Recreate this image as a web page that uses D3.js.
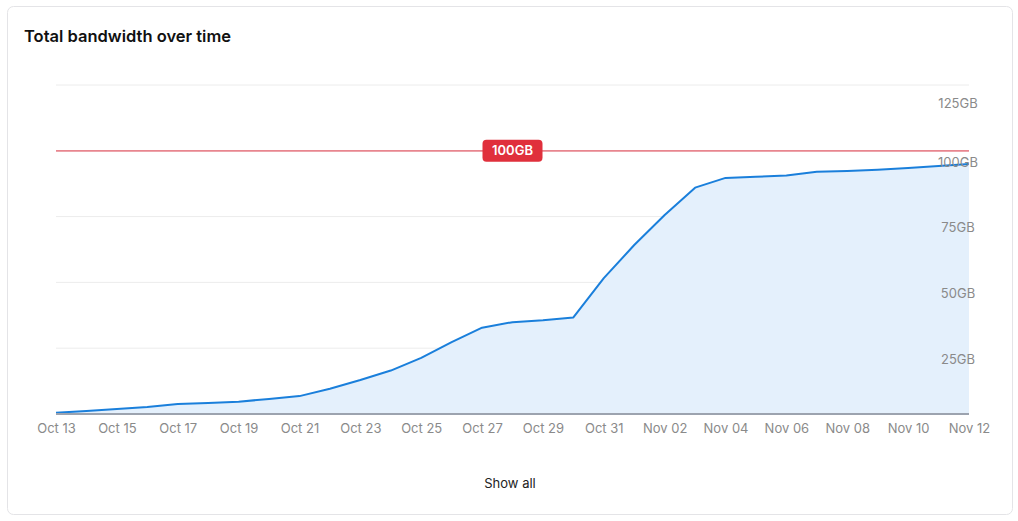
<!DOCTYPE html>
<html>
<head>
<meta charset="utf-8">
<script src="https://cdn.jsdelivr.net/npm/d3@7"></script>
<style>
  html, body { margin: 0; padding: 0; background: #fff; }
  svg { display: block; font-family: Inter, "Noto Sans", sans-serif; }
</style>
</head>
<body>
<svg id="chart" width="1018" height="521"></svg>
<script>
// ---- data ----
const startDate = "2024-10-13";
const dailyGB = [0.5, 1.1, 1.9, 2.7, 3.8, 4.2, 4.7, 5.7, 6.8, 9.6,
                 12.9, 16.5, 21.3, 27.3, 32.8, 34.9, 35.6, 36.7, 51.6, 64.2,
                 75.6, 86.0, 89.7, 90.1, 90.6, 92.0, 92.3, 92.8, 93.5, 94.2, 95.0];
const yTicks = [0, 25, 50, 75, 100, 125];
const xTickEvery = 2;
const limitGB = 100;
const limitLabel = "100GB";
const title = "Total bandwidth over time";
const footer = "Show all";

// ---- build ----
(function () {
const parse = d3.timeParse("%Y-%m-%d");
const d0 = parse(startDate);
const data = dailyGB.map((v, i) => ({ date: d3.timeDay.offset(d0, i), v }));

const svg = d3.select("#chart");
const pL = 56, pR = 969, pT = 85, pB = 414;

// card
svg.append("rect").attr("x", 7.5).attr("y", 6.5).attr("width", 1005).attr("height", 508)
  .attr("rx", 6).attr("fill", "#fff").attr("stroke", "#e4e4e7").attr("stroke-width", 1);

svg.append("text").attr("x", 24).attr("y", 42).text(title)
  .attr("font-size", 16.5).attr("font-weight", 600).attr("fill", "#111");

const x = d3.scaleTime().domain([data[0].date, data[data.length - 1].date]).range([pL, pR]);
const y = d3.scaleLinear().domain([0, 125]).range([pB, pT]);

// gridlines
svg.append("g").selectAll("line").data(yTicks.filter(t => t > 0)).join("line")
  .attr("x1", pL).attr("x2", pR)
  .attr("y1", d => y(d)).attr("y2", d => y(d))
  .attr("stroke", "#ececec").attr("stroke-width", 1);

// area + line
const area = d3.area().x(d => x(d.date)).y0(y(0)).y1(d => y(d.v));
const line = d3.line().x(d => x(d.date)).y(d => y(d.v));
svg.append("path").datum(data).attr("d", area).attr("fill", "#e4f0fc");
svg.append("path").datum(data).attr("d", line).attr("fill", "none")
  .attr("stroke", "#1a7fdb").attr("stroke-width", 2).attr("stroke-linejoin", "round");

// baseline
svg.append("line").attr("x1", pL).attr("x2", pR).attr("y1", y(0)).attr("y2", y(0))
  .attr("stroke", "#9ca3af").attr("stroke-width", 2);

// y axis labels (inside right)
const yAxis = d3.axisRight(y).tickValues(yTicks.filter(t => t > 0))
  .tickFormat(d => d + "GB").tickSize(0).tickPadding(0);
const yg = svg.append("g").attr("transform", "translate(958,0)").call(yAxis);
yg.select(".domain").remove();
yg.selectAll("text").attr("text-anchor", "middle")
  .attr("dy", d => d === 125 ? "1.73em" : "1.17em")
  .attr("font-size", 13).attr("fill", "#8a8a8a").attr("font-family", "Inter, sans-serif");

// x axis labels
const xTicks = data.filter((d, i) => i % xTickEvery === 0).map(d => d.date);
const xAxis = d3.axisBottom(x).tickValues(xTicks).tickFormat(d3.timeFormat("%b %d"))
  .tickSize(0).tickPadding(10);
const xg = svg.append("g").attr("transform", `translate(0,${pB})`).call(xAxis);
xg.select(".domain").remove();
xg.selectAll("text").attr("font-size", 13).attr("fill", "#8a8a8a").attr("font-family", "Inter, sans-serif");

// limit line
svg.append("line").attr("x1", pL).attr("x2", pR).attr("y1", y(limitGB)).attr("y2", y(limitGB))
  .attr("stroke", "#e8868f").attr("stroke-width", 1.8);
const cx = (pL + pR) / 2;
svg.append("rect").attr("x", cx - 30).attr("y", y(limitGB) - 11).attr("width", 60).attr("height", 22)
  .attr("rx", 4).attr("fill", "#e0303c");
svg.append("text").attr("x", cx).attr("y", y(limitGB)).attr("dy", "0.36em")
  .attr("text-anchor", "middle").attr("font-size", 13).attr("font-weight", 600)
  .attr("fill", "#fff").text(limitLabel);

svg.append("text").attr("x", 510).attr("y", 488).attr("text-anchor", "middle")
  .attr("font-size", 13).attr("fill", "#222").text(footer);
})();
</script>
</body>
</html>
